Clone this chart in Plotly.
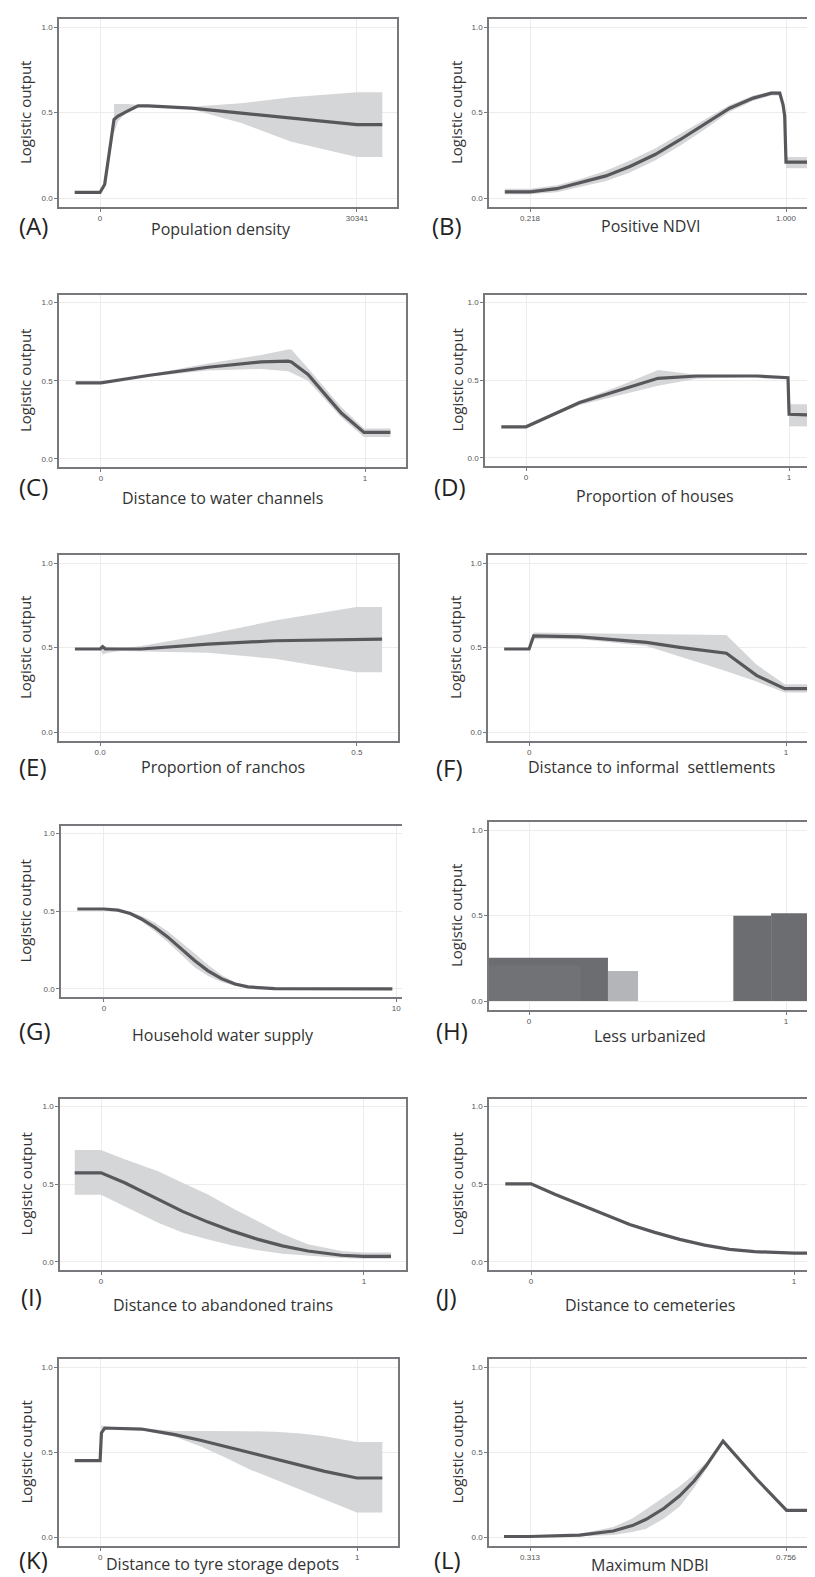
import plotly.graph_objects as go

W, H = 815, 1577

# ---------------- data ----------------
y_tickvals = [0.0, 0.5, 1.0]
y_ticktext = ["0.0", "0.5", "1.0"]

# (A) Population density
a_x = [-2990, 0, 550, 940, 1340, 1650, 2125, 3300, 4490, 5670, 10780, 16680, 22590, 30341, 33330]
a_y = [0.033, 0.033, 0.08, 0.2, 0.35, 0.46, 0.48, 0.51, 0.54, 0.54, 0.527, 0.497, 0.468, 0.43, 0.43]
a_bx = [1650, 2125, 3300, 4490, 5670, 10780, 16680, 22590, 30341, 33330]
a_hi = [0.55, 0.55, 0.55, 0.545, 0.543, 0.535, 0.555, 0.59, 0.62, 0.62]
a_lo = [0.38, 0.45, 0.51, 0.535, 0.537, 0.52, 0.44, 0.33, 0.24, 0.24]
a_ticks = [0, 30341]
a_ticktext = ["0", "30341"]

# (B) Positive NDVI
b_x = [0.141, 0.218, 0.30, 0.37, 0.45, 0.523, 0.60, 0.675, 0.75, 0.828, 0.90, 0.955, 0.981, 0.991, 0.996, 1.0, 1.0, 1.077]
b_y = [0.037, 0.037, 0.055, 0.088, 0.13, 0.185, 0.255, 0.34, 0.43, 0.526, 0.585, 0.614, 0.614, 0.546, 0.48, 0.3, 0.21, 0.21]
b_bx1 = [0.141, 0.218, 0.30, 0.37, 0.45, 0.523, 0.60, 0.675, 0.75, 0.828, 0.90, 0.955, 0.981, 0.991, 0.996]
b_hi1 = [0.055, 0.055, 0.075, 0.11, 0.16, 0.22, 0.29, 0.375, 0.46, 0.545, 0.60, 0.625, 0.625, 0.56, 0.49]
b_lo1 = [0.022, 0.022, 0.035, 0.065, 0.10, 0.15, 0.22, 0.305, 0.40, 0.505, 0.57, 0.60, 0.60, 0.53, 0.47]
b_bx2 = [1.0, 1.077]
b_hi2 = [0.24, 0.24]
b_lo2 = [0.175, 0.175]
b_ticks = [0.218, 1.0]
b_ticktext = ["0.218", "1.000"]

# (C) Distance to water channels
c_x = [-0.096, 0.0, 0.178, 0.405, 0.607, 0.708, 0.721, 0.784, 0.860, 0.910, 0.996, 1.096]
c_y = [0.486, 0.486, 0.533, 0.586, 0.62, 0.625, 0.62, 0.54, 0.39, 0.293, 0.169, 0.169]
c_bx = [0.0, 0.178, 0.405, 0.607, 0.708, 0.721, 0.784, 0.860, 0.910, 0.996, 1.096]
c_hi = [0.49, 0.54, 0.61, 0.665, 0.70, 0.70, 0.58, 0.43, 0.33, 0.195, 0.195]
c_lo = [0.48, 0.525, 0.565, 0.575, 0.56, 0.55, 0.50, 0.36, 0.265, 0.14, 0.14]

# (D) Proportion of houses
d_x = [-0.094, 0.0, 0.204, 0.35, 0.502, 0.648, 0.876, 0.996, 1.0, 1.1]
d_y = [0.2, 0.2, 0.356, 0.43, 0.512, 0.527, 0.527, 0.516, 0.281, 0.275]
d_bx1 = [0.0, 0.204, 0.35, 0.502, 0.648, 0.876, 0.996]
d_hi1 = [0.205, 0.37, 0.46, 0.565, 0.535, 0.53, 0.52]
d_lo1 = [0.195, 0.34, 0.40, 0.465, 0.51, 0.524, 0.512]
d_bx2 = [1.0, 1.1]
d_hi2 = [0.345, 0.345]
d_lo2 = [0.203, 0.203]

# (E) Proportion of ranchos
e_x = [-0.049, 0.0, 0.005, 0.01, 0.08, 0.21, 0.34, 0.499, 0.549]
e_y = [0.492, 0.492, 0.506, 0.492, 0.492, 0.521, 0.541, 0.551, 0.551]
e_bx = [0.0, 0.005, 0.015, 0.04, 0.08, 0.21, 0.34, 0.499, 0.549]
e_hi = [0.49, 0.51, 0.505, 0.495, 0.51, 0.58, 0.66, 0.74, 0.74]
e_lo = [0.49, 0.46, 0.47, 0.48, 0.48, 0.47, 0.434, 0.355, 0.355]

# (F) Distance to informal settlements
f_x = [-0.097, 0.0, 0.018, 0.197, 0.457, 0.586, 0.768, 0.885, 0.995, 1.098]
f_y = [0.492, 0.492, 0.570, 0.564, 0.531, 0.502, 0.467, 0.336, 0.258, 0.258]
f_bx = [0.005, 0.018, 0.197, 0.457, 0.586, 0.768, 0.885, 0.995, 1.098]
f_hi = [0.55, 0.59, 0.585, 0.58, 0.578, 0.575, 0.40, 0.283, 0.283]
f_lo = [0.51, 0.55, 0.55, 0.51, 0.45, 0.361, 0.30, 0.235, 0.235]

# (G) Household water supply
g_x = [-0.91, 0.0, 0.48, 0.9, 1.28, 1.75, 2.19, 2.65, 3.1, 3.55, 4.02, 4.48, 4.93, 5.84, 7.0, 9.87]
g_y = [0.514, 0.514, 0.507, 0.485, 0.45, 0.395, 0.333, 0.258, 0.183, 0.118, 0.066, 0.032, 0.013, 0.002, 0.0, 0.0]
g_bx = [0.48, 0.9, 1.28, 1.75, 2.19, 2.65, 3.1, 3.55, 4.02, 4.48, 4.93, 5.84]
g_hi = [0.51, 0.495, 0.47, 0.425, 0.37, 0.30, 0.23, 0.155, 0.09, 0.045, 0.02, 0.004]
g_lo = [0.505, 0.475, 0.435, 0.37, 0.30, 0.22, 0.14, 0.085, 0.045, 0.02, 0.006, 0.0]
g_ticks = [0, 10]
g_ticktext = ["0", "10"]

# (H) Less urbanized (bars)
h_left = [-0.2, -0.2, 0.307, 0.795, 0.942]
h_right = [0.307, 0.2, 0.424, 0.942, 1.3]
h_value = [0.254, 0.21, 0.176, 0.50, 0.514]
h_color = ["#6c6d71", "#717276", "#b4b5b8", "#6c6d71", "#6c6d71"]

# (I) Distance to abandoned trains
i_x = [-0.1, 0.0, 0.09, 0.217, 0.31, 0.407, 0.5, 0.597, 0.69, 0.787, 0.914, 1.0, 1.103]
i_y = [0.573, 0.573, 0.509, 0.402, 0.325, 0.256, 0.198, 0.145, 0.103, 0.07, 0.043, 0.036, 0.036]
i_bx = [-0.1, 0.0, 0.09, 0.217, 0.31, 0.407, 0.5, 0.597, 0.69, 0.787, 0.914, 1.0, 1.103]
i_hi = [0.72, 0.72, 0.66, 0.583, 0.51, 0.434, 0.345, 0.263, 0.18, 0.113, 0.07, 0.06, 0.06]
i_lo = [0.432, 0.432, 0.36, 0.252, 0.19, 0.145, 0.105, 0.075, 0.052, 0.038, 0.025, 0.02, 0.02]

# (J) Distance to cemeteries
j_x = [-0.098, 0.0, 0.09, 0.185, 0.28, 0.375, 0.47, 0.565, 0.66, 0.755, 0.85, 1.0, 1.098]
j_y = [0.502, 0.502, 0.435, 0.370, 0.302, 0.241, 0.19, 0.145, 0.108, 0.081, 0.066, 0.056, 0.056]

# (K) Distance to tyre storage depots
k_x = [-0.099, 0.0, 0.005, 0.018, 0.161, 0.29, 0.39, 0.485, 0.58, 0.68, 0.78, 0.874, 0.999, 1.098]
k_y = [0.45, 0.45, 0.613, 0.642, 0.636, 0.603, 0.57, 0.534, 0.497, 0.46, 0.422, 0.387, 0.348, 0.348]
k_bx = [0.005, 0.018, 0.161, 0.29, 0.39, 0.485, 0.58, 0.68, 0.78, 0.874, 0.999, 1.098]
k_hi = [0.66, 0.65, 0.64, 0.625, 0.625, 0.625, 0.623, 0.62, 0.61, 0.593, 0.56, 0.56]
k_lo = [0.6, 0.635, 0.63, 0.59, 0.535, 0.47, 0.40, 0.34, 0.275, 0.221, 0.145, 0.145]

# (L) Maximum NDBI
l_x = [0.268, 0.313, 0.399, 0.457, 0.49, 0.514, 0.545, 0.572, 0.597, 0.618, 0.647, 0.705, 0.757, 0.800]
l_y = [0.004, 0.004, 0.012, 0.036, 0.068, 0.105, 0.17, 0.243, 0.33, 0.421, 0.565, 0.342, 0.158, 0.158]
l_bx = [0.313, 0.399, 0.457, 0.49, 0.514, 0.545, 0.572, 0.597, 0.618, 0.647]
l_hi = [0.006, 0.02, 0.06, 0.11, 0.164, 0.235, 0.30, 0.37, 0.44, 0.565]
l_lo = [0.002, 0.005, 0.012, 0.03, 0.05, 0.11, 0.18, 0.29, 0.40, 0.565]
l_ticks = [0.313, 0.756]
l_ticktext = ["0.313", "0.756"]

unit_ticks = [0, 1]
unit_ticktext = ["0", "1"]
e_ticks = [0, 0.5]
e_ticktext = ["0.0", "0.5"]

x_titles = ["Population density", "Positive NDVI", "Distance to water channels",
            "Proportion of houses", "Proportion of ranchos", "Distance to informal  settlements",
            "Household water supply", "Less urbanized", "Distance to abandoned trains",
            "Distance to cemeteries", "Distance to tyre storage depots", "Maximum NDBI"]
panel_tags = ["(A)", "(B)", "(C)", "(D)", "(E)", "(F)", "(G)", "(H)", "(I)", "(J)", "(K)", "(L)"]

# ---------------- layout geometry (pixels) ----------------
panels = [
    dict(box=(51, 389, 11, 199), xr=(-4840, 35064), line=(a_x, a_y), bands=[(a_bx, a_hi, a_lo)],
         ticks=(a_ticks, a_ticktext), tag=(9, 217), xt=(213, 221), yt=17),
    dict(box=(481, 815, 11, 199), xr=(0.0927, 1.113), line=(b_x, b_y),
         bands=[(b_bx1, b_hi1, b_lo1), (b_bx2, b_hi2, b_lo2)],
         ticks=(b_ticks, b_ticktext), tag=(422, 217), xt=(642, 218), yt=448),
    dict(box=(51, 398, 287, 459), xr=(-0.159, 1.155), line=(c_x, c_y), bands=[(c_bx, c_hi, c_lo)],
         ticks=(unit_ticks, unit_ticktext), tag=(9, 478), xt=(215, 490), yt=17),
    dict(box=(477, 815, 287, 458), xr=(-0.156, 1.129), line=(d_x, d_y),
         bands=[(d_bx1, d_hi1, d_lo1), (d_bx2, d_hi2, d_lo2)],
         ticks=(unit_ticks, unit_ticktext), tag=(424, 478), xt=(647, 488), yt=448),
    dict(box=(51, 390, 547, 733), xr=(-0.080, 0.580), line=(e_x, e_y), bands=[(e_bx, e_hi, e_lo)],
         ticks=(e_ticks, e_ticktext), tag=(9, 758), xt=(215, 759), yt=17),
    dict(box=(480, 815, 547, 733), xr=(-0.160, 1.144), line=(f_x, f_y), bands=[(f_bx, f_hi, f_lo)],
         ticks=(unit_ticks, unit_ticktext), tag=(426, 759), xt=(643, 759), yt=447),
    dict(box=(53, 394, 818, 989), xr=(-1.47, 10.2), line=(g_x, g_y), bands=[(g_bx, g_hi, g_lo)],
         ticks=(g_ticks, g_ticktext), tag=(9, 1022), xt=(215, 1027), yt=17, noright=True),
    dict(box=(481, 815, 814, 1002), xr=(-0.156, 1.144), line=None, bands=[],
         ticks=(unit_ticks, unit_ticktext), tag=(426, 1023), xt=(642, 1028), yt=448, bars=True),
    dict(box=(52, 398, 1091, 1262), xr=(-0.156, 1.160), line=(i_x, i_y), bands=[(i_bx, i_hi, i_lo)],
         ticks=(unit_ticks, unit_ticktext), tag=(11, 1288), xt=(215, 1297), yt=17),
    dict(box=(481, 815, 1091, 1262), xr=(-0.160, 1.110), line=(j_x, j_y), bands=[],
         ticks=(unit_ticks, unit_ticktext), tag=(426, 1288), xt=(642, 1297), yt=448),
    dict(box=(51, 390, 1351, 1538), xr=(-0.160, 1.159), line=(k_x, k_y), bands=[(k_bx, k_hi, k_lo)],
         ticks=(unit_ticks, unit_ticktext), tag=(9, 1551), xt=(215, 1556), yt=17),
    dict(box=(481, 815, 1351, 1538), xr=(0.242, 0.820), line=(l_x, l_y), bands=[(l_bx, l_hi, l_lo)],
         ticks=(l_ticks, l_ticktext), tag=(424, 1551), xt=(642, 1557), yt=448),
]

LINE_COLOR = "#58585c"
BAND_COLOR = "#d5d6d8"
BOX_COLOR = "#77787b"
GRID_COLOR = "#ececec"
TEXT_FONT = "Open Sans"
TICK_FONT = "Liberation Sans"

fig = go.Figure()
annotations = []
layout = dict(width=W, height=H, margin=dict(l=0, r=0, t=0, b=0),
              paper_bgcolor="white", plot_bgcolor="white", showlegend=False)

def px(x):
    return x / W

def py(y):
    return 1 - y / H

for n, p in enumerate(panels):
    idx = "" if n == 0 else str(n + 1)
    xa, ya = "x" + idx, "y" + idx
    x0, x1, yt0, yb0 = p["box"]
    right_col = x1 >= 815
    layout["xaxis" + idx] = dict(
        domain=[px(x0), min(1.0, px(x1))], range=list(p["xr"]), anchor=ya,
        tickmode="array", tickvals=p["ticks"][0], ticktext=p["ticks"][1],
        showgrid=True, gridcolor=GRID_COLOR, gridwidth=1, zeroline=False,
        showline=True, linecolor=BOX_COLOR, linewidth=1.5, mirror=True,
        ticks="outside", ticklen=3, tickcolor=BOX_COLOR, tickwidth=1,
        tickfont=dict(family=TICK_FONT, size=8, color="#555555"),
    )
    layout["yaxis" + idx] = dict(
        domain=[py(yb0), py(yt0)], range=[-0.052, 1.048], anchor=xa,
        tickmode="array", tickvals=y_tickvals, ticktext=y_ticktext,
        showgrid=True, gridcolor=GRID_COLOR, gridwidth=1, zeroline=False,
        showline=True, linecolor=BOX_COLOR, linewidth=1.5,
        mirror=not (right_col or p.get("noright", False)),
        ticks="outside", ticklen=3, tickcolor=BOX_COLOR, tickwidth=1,
        tickfont=dict(family=TICK_FONT, size=8, color="#555555"),
    )
    for bx, hi, lo in p["bands"]:
        fig.add_trace(go.Scatter(x=list(bx) + list(bx)[::-1], y=list(hi) + list(lo)[::-1],
                                 fill="toself", fillcolor=BAND_COLOR, mode="lines",
                                 line=dict(width=0, color=BAND_COLOR), hoverinfo="skip",
                                 xaxis=xa, yaxis=ya))
    if p.get("bars"):
        for lft, rgt, val, col in zip(h_left, h_right, h_value, h_color):
            fig.add_trace(go.Bar(x=[(lft + rgt) / 2], y=[val], width=[rgt - lft],
                                 marker=dict(color=col, line=dict(width=0)),
                                 xaxis=xa, yaxis=ya))
    if p["line"] is not None:
        lx, ly = p["line"]
        fig.add_trace(go.Scatter(x=lx, y=ly, mode="lines",
                                 line=dict(color=LINE_COLOR, width=3.2),
                                 xaxis=xa, yaxis=ya))
    # y-axis title
    annotations.append(dict(text="Logistic output", xref="paper", yref="paper",
                            x=px(p["yt"]), y=py((yt0 + yb0) / 2), xanchor="center", yanchor="middle",
                            textangle=-90, showarrow=False,
                            font=dict(family=TEXT_FONT, size=15, color="#333333")))
    # x-axis title
    annotations.append(dict(text=x_titles[n], xref="paper", yref="paper",
                            x=px(p["xt"][0]), y=py(p["xt"][1]), xanchor="center", yanchor="middle",
                            showarrow=False, font=dict(family=TEXT_FONT, size=16, color="#333333")))
    # panel tag
    annotations.append(dict(text=panel_tags[n], xref="paper", yref="paper",
                            x=px(p["tag"][0]), y=py(p["tag"][1]), xanchor="left", yanchor="middle",
                            showarrow=False, font=dict(family=TEXT_FONT, size=24, color="#222222")))

layout["annotations"] = annotations
layout["barmode"] = "overlay"
fig.update_layout(**layout)
fig.write_html("out.html")
